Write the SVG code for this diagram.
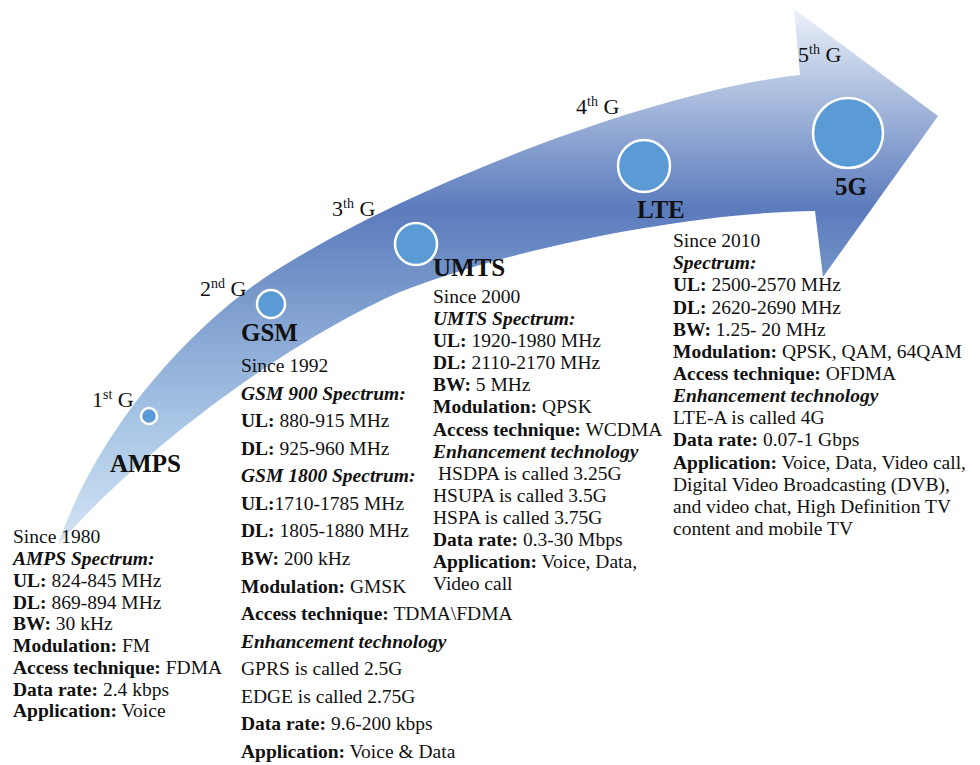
<svg xmlns="http://www.w3.org/2000/svg" width="980" height="765" viewBox="0 0 980 765">
<defs>
<linearGradient id="arrowGrad" gradientUnits="userSpaceOnUse" x1="0" y1="8" x2="0" y2="545">
<stop offset="0" stop-color="#eef2fa"/>
<stop offset="0.12" stop-color="#bccbe5"/>
<stop offset="0.375" stop-color="#5b7bbd"/>
<stop offset="0.54" stop-color="#7b9bcd"/>
<stop offset="0.77" stop-color="#a8c5e5"/>
<stop offset="1" stop-color="#d2e4f4"/>
</linearGradient>
<style>
text{font-family:"Liberation Serif","Times New Roman",serif;fill:#111;}
.body{font-size:19.5px;}
.lbl{font-size:22px;}
.sup{font-size:14px;}
.head{font-size:25px;font-weight:bold;}
.b{font-weight:bold;}
.bi{font-weight:bold;font-style:italic;}
.dot{fill:#5b9bd5;stroke:#ffffff;stroke-width:2.5;}
</style>
</defs>
<rect width="980" height="765" fill="#ffffff"/>
<g id="connectors">
<path id="timeline-arrow" fill="url(#arrowGrad)" d="M58,545 C100,420 205,310 293,260 C425,180 660,90 800,75 L794,9 L938,116 L823,277 L815,211 C700,212 520,245 400,292 C300,335 150,440 58,545 Z"/>
</g>
<g id="node-amps">
<circle class="dot" cx="149" cy="416" r="8"/>
<text class="lbl" x="92" y="407">1<tspan class="sup" dy="-8">st</tspan><tspan dy="8"> G</tspan></text>
<text class="head" x="110" y="472">AMPS</text>
<g class="body">
<text x="13" y="543">Since 1980</text>
<text x="13" y="565"><tspan class="bi">AMPS Spectrum:</tspan></text>
<text x="13" y="587"><tspan class="b">UL:</tspan> 824-845 MHz</text>
<text x="13" y="608.5"><tspan class="b">DL:</tspan> 869-894 MHz</text>
<text x="13" y="630"><tspan class="b">BW:</tspan> 30 kHz</text>
<text x="13" y="652"><tspan class="b">Modulation:</tspan> FM</text>
<text x="13" y="674"><tspan class="b">Access technique:</tspan> FDMA</text>
<text x="13" y="695.5"><tspan class="b">Data rate:</tspan> 2.4 kbps</text>
<text x="13" y="717"><tspan class="b">Application:</tspan> Voice</text>
</g>
</g>
<g id="node-gsm">
<circle class="dot" cx="271" cy="304" r="14"/>
<text class="lbl" x="200" y="296">2<tspan class="sup" dy="-8">nd</tspan><tspan dy="8"> G</tspan></text>
<text class="head" x="241" y="341">GSM</text>
<g class="body">
<text x="241" y="372">Since 1992</text>
<text x="241" y="399.6"><tspan class="bi">GSM 900 Spectrum:</tspan></text>
<text x="241" y="427.1"><tspan class="b">UL:</tspan> 880-915 MHz</text>
<text x="241" y="454.7"><tspan class="b">DL:</tspan> 925-960 MHz</text>
<text x="241" y="482.3"><tspan class="bi">GSM 1800 Spectrum:</tspan></text>
<text x="241" y="509.8"><tspan class="b">UL:</tspan>1710-1785 MHz</text>
<text x="241" y="537.4"><tspan class="b">DL:</tspan> 1805-1880 MHz</text>
<text x="241" y="565"><tspan class="b">BW:</tspan> 200 kHz</text>
<text x="241" y="592.6"><tspan class="b">Modulation:</tspan> GMSK</text>
<text x="241" y="620.1"><tspan class="b">Access technique:</tspan> TDMA\FDMA</text>
<text x="241" y="647.7"><tspan class="bi">Enhancement technology</tspan></text>
<text x="241" y="675.3">GPRS is called 2.5G</text>
<text x="241" y="702.8">EDGE is called 2.75G</text>
<text x="241" y="730.4"><tspan class="b">Data rate:</tspan> 9.6-200 kbps</text>
<text x="241" y="758"><tspan class="b">Application:</tspan> Voice &amp; Data</text>
</g>
</g>
<g id="node-umts">
<circle class="dot" cx="416" cy="244" r="21"/>
<text class="lbl" x="332" y="216">3<tspan class="sup" dy="-8">th</tspan><tspan dy="8"> G</tspan></text>
<text class="head" x="433" y="276">UMTS</text>
<g class="body">
<text x="433" y="303">Since 2000</text>
<text x="433" y="325.1"><tspan class="bi">UMTS Spectrum:</tspan></text>
<text x="433" y="347.2"><tspan class="b">UL:</tspan> 1920-1980 MHz</text>
<text x="433" y="369.2"><tspan class="b">DL:</tspan> 2110-2170 MHz</text>
<text x="433" y="391.3"><tspan class="b">BW:</tspan> 5 MHz</text>
<text x="433" y="413.4"><tspan class="b">Modulation:</tspan> QPSK</text>
<text x="433" y="435.5"><tspan class="b">Access technique:</tspan> WCDMA</text>
<text x="433" y="457.6"><tspan class="bi">Enhancement technology</tspan></text>
<text x="438" y="479.6">HSDPA is called 3.25G</text>
<text x="433" y="501.7">HSUPA is called 3.5G</text>
<text x="433" y="523.8">HSPA is called 3.75G</text>
<text x="433" y="545.9"><tspan class="b">Data rate:</tspan> 0.3-30 Mbps</text>
<text x="433" y="568"><tspan class="b">Application:</tspan> Voice, Data,</text>
<text x="433" y="590">Video call</text>
</g>
</g>
<g id="node-lte">
<circle class="dot" cx="644" cy="166" r="26"/>
<text class="lbl" x="576" y="114">4<tspan class="sup" dy="-8">th</tspan><tspan dy="8"> G</tspan></text>
<text class="head" x="637" y="218">LTE</text>
<g class="body">
<text x="673" y="247">Since 2010</text>
<text x="673" y="269.2"><tspan class="bi">Spectrum:</tspan></text>
<text x="673" y="291.3"><tspan class="b">UL:</tspan> 2500-2570 MHz</text>
<text x="673" y="313.5"><tspan class="b">DL:</tspan> 2620-2690 MHz</text>
<text x="673" y="335.6"><tspan class="b">BW:</tspan> 1.25- 20 MHz</text>
<text x="673" y="357.8"><tspan class="b">Modulation:</tspan> QPSK, QAM, 64QAM</text>
<text x="673" y="379.9"><tspan class="b">Access technique:</tspan> OFDMA</text>
<text x="673" y="402.1"><tspan class="bi">Enhancement technology</tspan></text>
<text x="673" y="424.2">LTE-A is called 4G</text>
<text x="673" y="446.4"><tspan class="b">Data rate:</tspan> 0.07-1 Gbps</text>
<text x="673" y="468.5"><tspan class="b">Application:</tspan> Voice, Data, Video call,</text>
<text x="673" y="490.7">Digital Video Broadcasting (DVB),</text>
<text x="673" y="512.8">and video chat, High Definition TV</text>
<text x="673" y="535">content and mobile TV</text>
</g>
</g>
<g id="node-5g">
<circle class="dot" cx="848" cy="133" r="35"/>
<text class="lbl" x="798" y="62">5<tspan class="sup" dy="-8">th</tspan><tspan dy="8"> G</tspan></text>
<text class="head" x="835" y="195">5G</text>
</g>
</svg>
